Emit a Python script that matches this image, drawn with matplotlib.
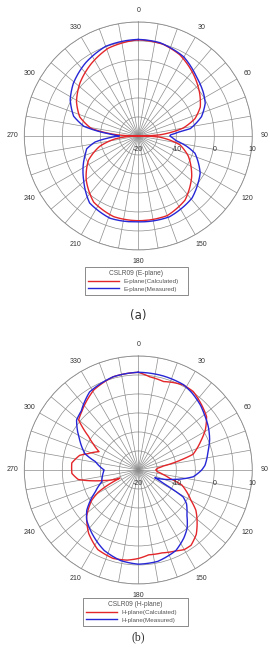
import matplotlib
matplotlib.use("Agg")
import matplotlib.pyplot as plt
import matplotlib.transforms as mtransforms
import numpy as np

plt.rcParams['font.family'] = ['Liberation Sans', 'DejaVu Sans']

# E-plane (a): angle in degrees (clockwise from top), gain in dB
e_calc_deg = [0, 15, 27, 41, 55, 65, 73, 80, 87, 90, 93, 102, 112, 127, 144, 160, 180,
              197, 214, 230, 244, 255, 263, 270, 273, 279, 288, 299, 312, 327, 341, 360]
e_calc_db = [5.3, 5.0, 4.0, 1.9, -0.3, -2.0, -4.4, -8.0, -14.3, -20.0, -14.5, -8.8, -5.8, -2.4, 0.9, 2.3, 2.3,
             2.2, 1.0, -2.1, -5.4, -9.5, -14.0, -20.0, -14.5, -7.5, -3.8, -1.4, 0.7, 2.7, 4.4, 5.3]

e_meas_deg = [0, 13, 30, 44, 57, 64, 73, 82, 84, 88, 90, 93, 97, 102, 107, 121, 139, 159, 180,
              199, 216, 231, 249, 256, 262, 266, 270, 274, 277, 280, 287, 298, 309, 324, 340, 360]
e_meas_db = [5.4, 5.2, 4.0, 1.9, 0.5, -0.4, -2.6, -6.2, -9.0, -11.5, -11.7, -11.0, -10.0, -7.0, -4.4, -1.0, 1.6, 2.8, 2.6,
             2.9, 1.8, -1.5, -4.9, -6.0, -8.5, -12.0, -15.0, -12.5, -9.0, -5.5, -2.2, 0.3, 2.0, 3.7, 5.1, 5.4]

# H-plane (b)
h_calc_deg = [0, 7, 16, 22, 28, 35, 42, 52, 59, 65, 70, 74, 77, 81, 85, 90, 95, 100, 105, 109,
              120, 125, 131, 138, 145, 150, 155, 164, 173, 180, 187, 196, 207, 218, 228, 237,
              241, 244, 246, 250, 253, 256, 261, 267, 276, 284, 288, 295, 300, 304, 310, 316,
              331, 345, 360]
h_calc_db = [5.7, 4.7, 4.2, 4.8, 5.3, 5.2, 4.2, 2.8, 0.6, -1.8, -3.6, -5.0, -8.7, -13.3, -15.0, -15.4, -15.0, -13.5, -11.4, -7.9,
             -4.0, -1.5, 0.5, 2.8, 4.2, 4.2, 3.5, 2.7, 2.5, 3.3, 3.9, 4.2, 3.5, 1.2, -1.7, -5.4,
             -8.0, -11.5, -14.7, -12.2, -10.5, -8.2, -4.0, -2.5, -2.4, -4.1, -6.1, -8.6, -6.3, -4.2, 0.5, 1.4,
             4.1, 5.4, 5.7]

h_meas_deg = [0, 15, 28, 35, 44, 50, 58, 67, 75, 86, 90, 97, 105, 110, 115, 118, 121, 125, 133,
              140, 146, 155, 168, 180, 191, 203, 216, 226, 232, 243, 252, 265, 270, 281, 287, 297,
              309, 316, 328, 345, 360]
h_meas_db = [5.7, 5.6, 5.4, 4.7, 3.6, 2.7, 1.7, 0.4, -1.0, -2.4, -3.3, -5.4, -10.4, -12.8, -15.2, -12.5, -6.2, -4.5, -2.5,
             0.0, 1.5, 3.4, 4.6, 4.8, 4.3, 3.0, 0.7, -1.1, -2.8, -7.3, -9.9, -10.7, -11.0, -8.5, -5.3, -2.7,
             0.9, 1.6, 4.2, 5.4, 5.7]

r_ticks = [-20, -15, -10, -5, 0, 5, 10]
r_labels = ['-20', '', '-10', '', '0', '', '10']
theta_ticks = list(range(0, 360, 10))
theta_labels = [str(t) if t % 30 == 0 else '' for t in theta_ticks]

RED = '#e3262a'
BLUE = '#2626d6'
GRID = '#8c8c8c'

fig = plt.figure(figsize=(2.70, 6.53), dpi=100)


def polar_panel(rect, calc, meas, title, lab_calc, lab_meas, legend_box, caption, cap_y, cap_font):
    ax = fig.add_axes(rect, projection='polar')
    ax.set_theta_zero_location('N')
    ax.set_theta_direction(-1)
    ax.set_rlim(-20, 10)
    ax.set_thetagrids(theta_ticks, theta_labels, fontsize=5, color='#333333')
    ax.set_yticks(r_ticks)
    ax.set_yticklabels([])
    ax.tick_params(axis='x', pad=-2)
    ax.grid(True, color=GRID, linewidth=0.5)
    ax.spines['polar'].set_color(GRID)
    ax.spines['polar'].set_linewidth(0.6)

    l1, = ax.plot(np.radians(calc[0]), calc[1], color=RED, lw=1.0, label=lab_calc)
    l2, = ax.plot(np.radians(meas[0]), meas[1], color=BLUE, lw=1.0, label=lab_meas)
    # draw the segments as arcs in polar space instead of straight chords
    for ln in (l1, l2):
        ln.get_path()._interpolation_steps = 30

    off = mtransforms.ScaledTranslation(0, -0.14, fig.dpi_scale_trans)
    for v, s in zip(r_ticks, r_labels):
        if s:
            ax.text(np.radians(90), v, s, transform=ax.transData + off,
                    ha='center', va='center', fontsize=5, color='#333333')

    leg = fig.legend(handles=[l1, l2], loc='upper left', bbox_to_anchor=legend_box,
                     bbox_transform=fig.transFigure, mode='expand',
                     title=title, fontsize=4.5, title_fontsize=4.8, frameon=True,
                     fancybox=False, framealpha=1, edgecolor='#777777',
                     handlelength=5.0, handletextpad=0.6, borderpad=0.5,
                     labelspacing=0.3, borderaxespad=0)
    leg.get_frame().set_linewidth(0.6)
    leg.get_title().set_color('#555555')
    for t in leg.get_texts():
        t.set_color('#555555')

    fig.text(0.513, cap_y, caption, ha='center', va='center', fontsize=8.5,
             family=cap_font, color='#333333')
    return ax


polar_panel([0.090, 0.6172, 0.8444, 0.3492], (e_calc_deg, e_calc_db), (e_meas_deg, e_meas_db),
            'CSLR09 (E-plane)', 'E-plane(Calculated)', 'E-plane(Measured)',
            (0.315, 0.5467, 0.381, 0.0444), '(a)', 1 - 315 / 653, ['DejaVu Sans'])

polar_panel([0.090, 0.1057, 0.8444, 0.3492], (h_calc_deg, h_calc_db), (h_meas_deg, h_meas_db),
            'CSLR09 (H-plane)', 'H-plane(Calculated)', 'H-plane(Measured)',
            (0.307, 0.0459, 0.389, 0.0383), '(b)', 1 - 637 / 653, ['Liberation Serif'])

fig.savefig('out.png', dpi=100, facecolor='white')
